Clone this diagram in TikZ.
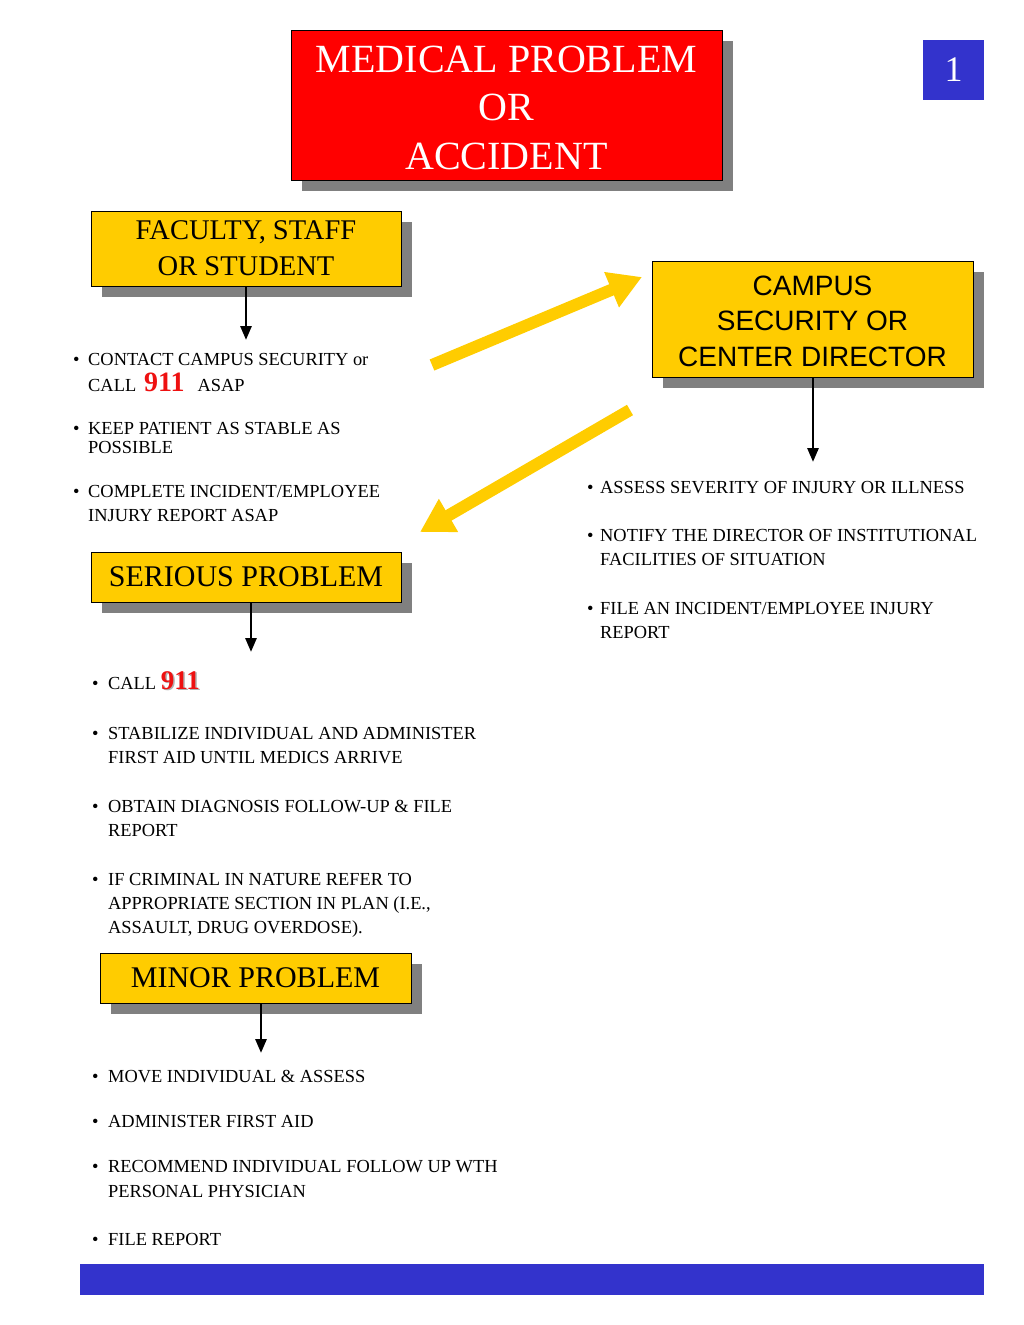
\documentclass[tikz,border=0pt]{standalone}
\usepackage{fontspec}
\setmainfont{Liberation Serif}
\newfontfamily\arialfont{Liberation Sans}
\usetikzlibrary{arrows.meta,shadows}
\definecolor{boxyellow}{HTML}{FFCC00}
\definecolor{boxred}{HTML}{FF0000}
\definecolor{barblue}{HTML}{3333CC}
\definecolor{shadowgrey}{HTML}{808080}
\definecolor{numred}{HTML}{EE1111}
\newcommand{\bitemL}{\makebox[15pt][l]{\textbullet}}
\newcommand{\bitemS}{\makebox[16pt][l]{\textbullet}}
\newcommand{\bitemR}{\makebox[13pt][l]{\textbullet}}
\begin{document}
\begin{tikzpicture}[x=1pt,y=-1pt,
  box/.style={draw=black, line width=0.8pt, inner sep=0pt, align=center,
    drop shadow={shadow xshift=11pt, shadow yshift=-11pt, fill=shadowgrey, opacity=1}},
  ybox/.style={box, fill=boxyellow},
  flow/.style={draw=black, line width=2.8pt, -{Triangle[length=14pt,width=11pt]}},
  bigarrow/.style={draw=boxyellow, line width=12pt, -{Triangle[length=33pt,width=36pt]}},
  bul/.style={anchor=base west, inner sep=0pt, align=left, font=\fontsize{18.4}{24}\selectfont},
]
\useasboundingbox (0,0) rectangle (1024,1325);

% title
\node[box, fill=boxred, text=white, minimum width=431pt, minimum height=150pt,
  font=\fontsize{40}{48.5}\selectfont] (medical) at (506.5,105) {\rule{0pt}{32pt}MEDICAL PROBLEM\\OR\\ACCIDENT};
\node[fill=barblue, text=white, minimum width=61pt, minimum height=60pt, inner sep=0pt,
  font=\fontsize{36}{36}\selectfont] (pagenum) at (953.5,70) {1};

% faculty
\node[ybox, minimum width=310pt, minimum height=75pt, font=\fontsize{28.5}{36}\selectfont]
  (faculty) at (246,248.5) {FACULTY, STAFF\\OR STUDENT};
\coordinate (facend) at (246,340);
\draw[flow] (faculty.south) -- (facend);

% (multi-line nodes are placed by the baseline of their last line)
\node[bul] (b1) at (73,391) {\bitemL CONTACT CAMPUS SECURITY or\\[2pt]
  \hspace*{15pt}CALL\hspace{8pt}\textcolor{numred}{\fontsize{28}{24}\selectfont\bfseries 911}\hspace{13pt}ASAP};
\node[bul] (b2) at (73,453) {\bitemL KEEP PATIENT AS STABLE AS\\[-5pt]\hspace*{15pt}POSSIBLE};
\node[bul] (b3) at (73,521) {\bitemL COMPLETE INCIDENT/EMPLOYEE\\\hspace*{15pt}INJURY REPORT ASAP};

% campus
\node[ybox, minimum width=321pt, minimum height=116pt, font=\arialfont\fontsize{28}{35.5}\selectfont]
  (campus) at (812.5,319) {\rule{0pt}{24pt}CAMPUS\\SECURITY OR\\CENTER DIRECTOR};
\coordinate (campend) at (813,462);
\draw[flow] (campus.south -| campend) -- (campend);

\node[bul] (r1) at (587,493) {\bitemR ASSESS SEVERITY OF INJURY OR ILLNESS};
\node[bul] (r2) at (587,565) {\bitemR NOTIFY THE DIRECTOR OF INSTITUTIONAL\\\hspace*{13pt}FACILITIES OF SITUATION};
\node[bul] (r3) at (587,638) {\bitemR FILE AN INCIDENT/EMPLOYEE INJURY\\\hspace*{13pt}REPORT};

% yellow arrows
\coordinate (ya1s) at (432,365);
\coordinate (ya1e) at (642,277);
\coordinate (ya2s) at (630,410);
\coordinate (ya2e) at (420,532);
\draw[bigarrow] (ya1s) -- (ya1e);
\draw[bigarrow] (ya2s) -- (ya2e);

% serious
\node[ybox, minimum width=310pt, minimum height=50pt, font=\fontsize{30}{36}\selectfont]
  (serious) at (246,577) {SERIOUS PROBLEM};
\coordinate (serend) at (251,652);
\draw[flow] (serious.south -| serend) -- (serend);

\node[bul] (s1) at (92,689) {\bitemS CALL \makebox[0pt][l]{\raisebox{-1.5pt}{\hspace{1.5pt}\textcolor{black!30}{\fontsize{27}{24}\selectfont\bfseries 911}}}\textcolor{numred}{\fontsize{27}{24}\selectfont\bfseries 911}};
\node[bul] (s2) at (92,763) {\bitemS STABILIZE INDIVIDUAL AND ADMINISTER\\\hspace*{16pt}FIRST AID UNTIL MEDICS ARRIVE};
\node[bul] (s3) at (92,836) {\bitemS OBTAIN DIAGNOSIS FOLLOW-UP \& FILE\\\hspace*{16pt}REPORT};
\node[bul] (s4) at (92,933) {\bitemS IF CRIMINAL IN NATURE REFER TO\\\hspace*{16pt}APPROPRIATE SECTION IN PLAN (I.E.,\\\hspace*{16pt}ASSAULT, DRUG OVERDOSE).};

% minor
\node[ybox, minimum width=311pt, minimum height=50pt, font=\fontsize{30}{36}\selectfont]
  (minor) at (255.5,978) {MINOR PROBLEM};
\coordinate (minend) at (261,1053);
\draw[flow] (minor.south -| minend) -- (minend);

\node[bul] (m1) at (92,1082) {\bitemS MOVE INDIVIDUAL \& ASSESS};
\node[bul] (m2) at (92,1127) {\bitemS ADMINISTER FIRST AID};
\node[bul] (m3) at (92,1197) {\bitemS RECOMMEND INDIVIDUAL FOLLOW UP WTH\\[1pt]\hspace*{16pt}PERSONAL PHYSICIAN};
\node[bul] (m4) at (92,1245) {\bitemS FILE REPORT};

% bottom bar
\node[fill=barblue, minimum width=904pt, minimum height=31pt, inner sep=0pt] (bar) at (532,1279.5) {};
\end{tikzpicture}
\end{document}
